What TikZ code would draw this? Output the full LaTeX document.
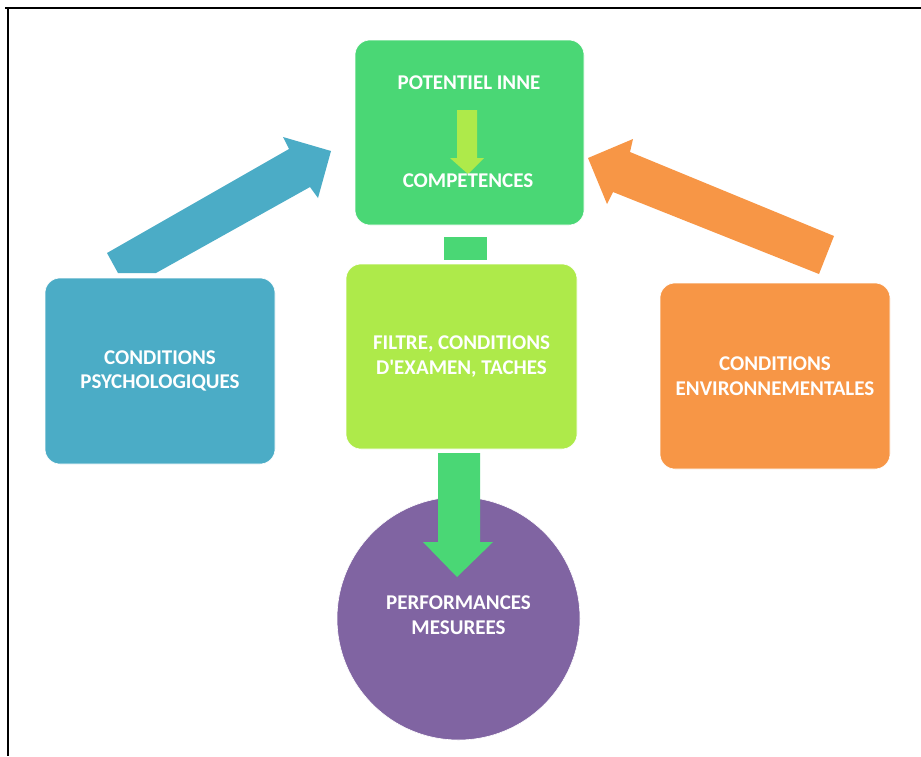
\documentclass[tikz,border=0pt]{standalone}
\usepackage{fontspec}
\setmainfont{Carlito}
\definecolor{cgreen}{HTML}{4AD775}
\definecolor{clime}{HTML}{AEEA4A}
\definecolor{cblue}{HTML}{4BACC6}
\definecolor{corange}{HTML}{F79646}
\definecolor{cpurple}{HTML}{8064A2}
\tikzset{
  box/.style={rectangle, rounded corners=15pt, inner sep=0pt, draw=white, line width=0.6pt,
    text=white, align=center, font=\fontsize{21}{24.5}\selectfont\bfseries},
  lbl/.style={inner sep=0pt, text=white, align=center, font=\fontsize{21}{24.5}\selectfont\bfseries},
  frameline/.style={line width=1.6pt, black}
}
\begin{document}
\begin{tikzpicture}[x=1pt,y=-1pt]
\useasboundingbox[fill=white] (0,0) rectangle (921,756);
% frame
\coordinate (fa) at (5,8);
\coordinate (fb) at (921,8);
\coordinate (fc) at (8,8);
\coordinate (fd) at (8,756);
\draw[frameline] (fa) -- (fb);
\draw[frameline] (fc) -- (fd);

% arrows behind boxes
\fill[cblue] (107,253) -- (118,273) -- (156,273) -- (310,187) -- (318,198) -- (331,151) -- (283,137) -- (289,149) -- cycle;
\fill[corange] (588,158) -- (633,139) -- (630,152) -- (834,236) -- (819,274) -- (613,192) -- (607,204) -- cycle;

% boxes
\node[box, fill=cgreen, minimum width=229pt, minimum height=185pt] (pot) at (469.5,132.5) {};
\fill[cgreen] (444,237) rectangle (487,260);
\node[box, fill=clime, minimum width=231pt, minimum height=185pt] (fil) at (461.5,356.5) {FILTRE, CONDITIONS\\D\textquotesingle EXAMEN, TACHES};
\node[box, fill=cblue, minimum width=230pt, minimum height=186pt] (psy) at (160,371) {CONDITIONS\\PSYCHOLOGIQUES};
\node[box, fill=corange, minimum width=230pt, minimum height=186pt] (env) at (775,376) {CONDITIONS\\ENVIRONNEMENTALES};
\node[circle, fill=cpurple, draw=white, line width=0.6pt, minimum size=243pt, inner sep=0pt] (perf) at (458.5,618.5) {};
\node[lbl] (perft) at (458.5,615) {PERFORMANCES\\MESUREES};

% green down arrow into circle
\fill[cgreen] (438,453) -- (480,453) -- (480,542) -- (493,542) -- (457,577) -- (423,542) -- (438,542) -- cycle;

% small lime arrow inside top box
\fill[clime] (457,110) -- (477,110) -- (477,158) -- (484,158) -- (468,174) -- (450,158) -- (457,158) -- cycle;
\node[lbl] (potA) at (469,83) {POTENTIEL INNE};
\node[lbl] (potB) at (468,181) {COMPETENCES};
\end{tikzpicture}
\end{document}
